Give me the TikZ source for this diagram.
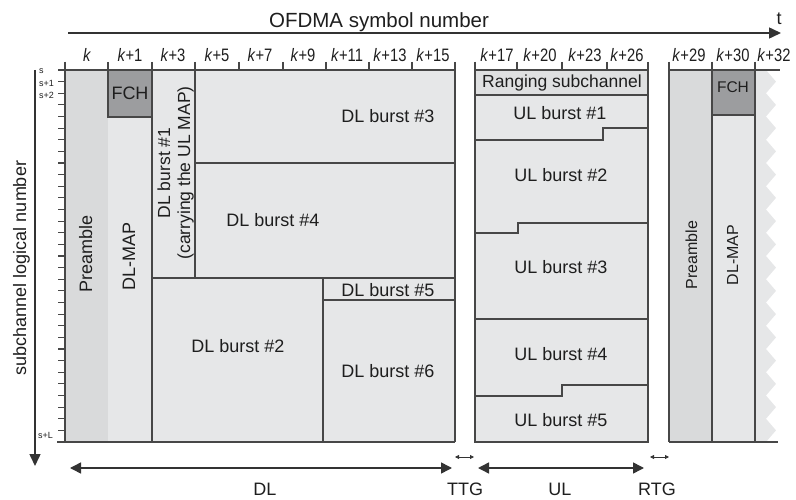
\documentclass[tikz,border=0pt]{standalone}
\usepackage{fontspec}
\setmainfont{Liberation Sans}
\newfontfamily\narrowfont[FakeStretch=0.82]{Liberation Sans}
\usetikzlibrary{arrows.meta}
\definecolor{fillg}{HTML}{E6E7E8}
\definecolor{preg}{HTML}{D9DADB}
\definecolor{rangg}{HTML}{DFE0E1}
\definecolor{fchg}{HTML}{9C9D9F}
\definecolor{lineg}{HTML}{474747}
\definecolor{arrg}{HTML}{333333}
\definecolor{txt}{HTML}{1E1E1E}
\begin{document}
\begin{tikzpicture}[x=1pt,y=-1pt,
  ln/.style={draw=lineg,line width=1.3pt},
  tk/.style={draw=lineg,line width=1.1pt},
  lbl/.style={font=\fontsize{18}{20}\selectfont,inner sep=0pt,anchor=base,text=txt},
  rlbl/.style={lbl,rotate=90},
  colnum/.style={font=\narrowfont\fontsize{18}{20}\selectfont,inner sep=0pt,anchor=base,text=txt},
  tiny/.style={font=\fontsize{9}{10}\selectfont,inner sep=0pt,anchor=base west,text=txt},
  bigarr/.style={draw=arrg,line width=1.5pt,-{Triangle[length=12pt,width=11pt]}},
  darr/.style={draw=arrg,line width=1.5pt,{Triangle[length=11pt,width=11pt]}-{Triangle[length=11pt,width=11pt]}},
  sarr/.style={draw=arrg,line width=0.8pt,{Triangle[length=4pt,width=4pt]}-{Triangle[length=4pt,width=4pt]}}]
\useasboundingbox (0,0) rectangle (796,500);

% ---------- fills ----------
% DL frame
\fill[preg] (65,70) rectangle (108,442);
\fill[fillg] (108,70) rectangle (455,442);
\fill[fchg] (108,70) rectangle (152,117);
% UL frame
\fill[fillg] (475,70) rectangle (648,442);
\fill[rangg] (475,70) rectangle (648,95);
% next frame
\fill[preg] (669,70) rectangle (712,442);
\fill[fillg] (712,70) rectangle (755,442);
\fill[fchg] (712,70) rectangle (755,115);
\fill[fillg] (755,70) -- (766,70)
  \foreach \i in {0,...,15} { -- (776,{70+\i*23.25+11.625}) -- (766,{70+(\i+1)*23.25}) }
  -- (755,442) -- cycle;

% ---------- axes ----------
\coordinate (ta1) at (68,33);
\coordinate (ta2) at (781,33);
\draw[bigarr] (ta1) -- (ta2);
\coordinate (la1) at (35,70);
\coordinate (la2) at (35,466);
\draw[bigarr] (la1) -- (la2);

\node[font=\fontsize{20.5}{22}\selectfont,inner sep=0pt,anchor=base,text=txt] (title) at (379,28) {OFDMA symbol number};
\node[lbl] (tlab) at (779,25) {t};
\node[rlbl,font=\fontsize{18}{20}\selectfont] (ylab) at (26,268) {subchannel logical number};

% left ruler
\foreach \i in {0,...,31} \draw[tk] (58,{70+\i*11.625}) -- (65,{70+\i*11.625});
\node[tiny] (s0) at (39,74) {s};
\node[tiny] (s1) at (39,87) {s+1};
\node[tiny] (s2) at (39,99) {s+2};
\node[tiny] (sL) at (38,438) {s+L};

% top ruler ticks
\foreach \x in {65,108,152,195,239,283,326,369,412,455,475,517,562,607,648,669,712,755}
  \draw[tk] (\x,62) -- (\x,70);

% column numbers
\node[colnum] (c0) at (87,62) {\textit{k}};
\node[colnum] (c1) at (130,62) {\textit{k}+1};
\node[colnum] (c3) at (173,62) {\textit{k}+3};
\node[colnum] (c5) at (217,62) {\textit{k}+5};
\node[colnum] (c7) at (260,62) {\textit{k}+7};
\node[colnum] (c9) at (303,62) {\textit{k}+9};
\node[colnum] (c11) at (347,62) {\textit{k}+11};
\node[colnum] (c13) at (390,62) {\textit{k}+13};
\node[colnum] (c15) at (433,62) {\textit{k}+15};
\node[colnum] (c17) at (497,62) {\textit{k}+17};
\node[colnum] (c20) at (540,62) {\textit{k}+20};
\node[colnum] (c23) at (585,62) {\textit{k}+23};
\node[colnum] (c26) at (627,62) {\textit{k}+26};
\node[colnum] (c29) at (689,62) {\textit{k}+29};
\node[colnum] (c30) at (733,62) {\textit{k}+30};
\node[colnum] (c32) at (774,62) {\textit{k}+32};

% ---------- DL frame lines ----------
\draw[ln] (65,62) -- (65,442);
\draw[ln] (65,70) -- (455,70) -- (455,442);
\draw[ln] (57,442) -- (455,442);
\draw[ln] (108,70) -- (108,117) -- (152,117);
\draw[ln] (152,70) -- (152,442);
\draw[ln] (195,70) -- (195,278);
\draw[ln] (195,163) -- (455,163);
\draw[ln] (152,278) -- (455,278);
\draw[ln] (323,278) -- (323,442);
\draw[ln] (323,300) -- (455,300);

% ---------- UL frame lines ----------
\draw[ln] (475,62) -- (475,442) -- (648,442) -- (648,62);
\draw[ln] (475,70) -- (648,70);
\draw[ln] (475,95) -- (648,95);
\draw[ln] (475,140) -- (603,140) -- (603,128) -- (648,128);
\draw[ln] (475,233) -- (518,233) -- (518,223) -- (648,223);
\draw[ln] (475,319) -- (648,319);
\draw[ln] (475,396) -- (562,396) -- (562,385) -- (648,385);

% ---------- next frame lines ----------
\draw[ln] (669,62) -- (669,442);
\draw[ln] (669,70) -- (780,70);
\draw[ln] (712,62) -- (712,442);
\draw[ln] (755,62) -- (755,442);
\draw[ln] (712,115) -- (755,115);
\draw[ln] (669,442) -- (778,442);

% ---------- labels ----------
\node[rlbl] (pre1) at (92,254) {Preamble};
\node[rlbl] (map1) at (135,256) {DL-MAP};
\node[lbl] (fch1) at (130,100) {FCH};
\node[rlbl,align=center,font=\fontsize{17.5}{20}\selectfont] (dl1) at (190,173) {DL burst \#1\\(carrying the UL MAP)};
\node[lbl] (dl3) at (388,123) {DL burst \#3};
\node[lbl] (dl4) at (273,227) {DL burst \#4};
\node[lbl] (dl2) at (238,352) {DL burst \#2};
\node[lbl] (dl5) at (388,296) {DL burst \#5};
\node[lbl] (dl6) at (388,377) {DL burst \#6};

\node[lbl,font=\fontsize{17.5}{20}\selectfont] (rng) at (562,88) {Ranging subchannel};
\node[lbl] (ul1) at (560,120) {UL burst \#1};
\node[lbl] (ul2) at (561,182) {UL burst \#2};
\node[lbl] (ul3) at (561,273) {UL burst \#3};
\node[lbl] (ul4) at (561,360) {UL burst \#4};
\node[lbl] (ul5) at (561,426) {UL burst \#5};

\node[rlbl,font=\fontsize{16}{18}\selectfont] (pre2) at (697,255) {Preamble};
\node[rlbl,font=\fontsize{16}{18}\selectfont] (map2) at (738,255) {DL-MAP};
\node[lbl,font=\fontsize{15.5}{17}\selectfont] (fch2) at (733,93) {FCH};

% ---------- bottom arrows ----------
\coordinate (dla) at (70,468);
\coordinate (dlb) at (452,468);
\coordinate (ttga) at (455,457);
\coordinate (ttgb) at (474,457);
\coordinate (ula) at (478,468);
\coordinate (ulb) at (644,468);
\coordinate (rtga) at (650,457);
\coordinate (rtgb) at (669,457);
\draw[darr] (dla) -- (dlb);
\draw[sarr] (ttga) -- (ttgb);
\draw[darr] (ula) -- (ulb);
\draw[sarr] (rtga) -- (rtgb);
\node[lbl] (dllab) at (265,495) {DL};
\node[lbl] (ttglab) at (465,495) {TTG};
\node[lbl] (ullab) at (560,495) {UL};
\node[lbl] (rtglab) at (657,495) {RTG};
\end{tikzpicture}
\end{document}
